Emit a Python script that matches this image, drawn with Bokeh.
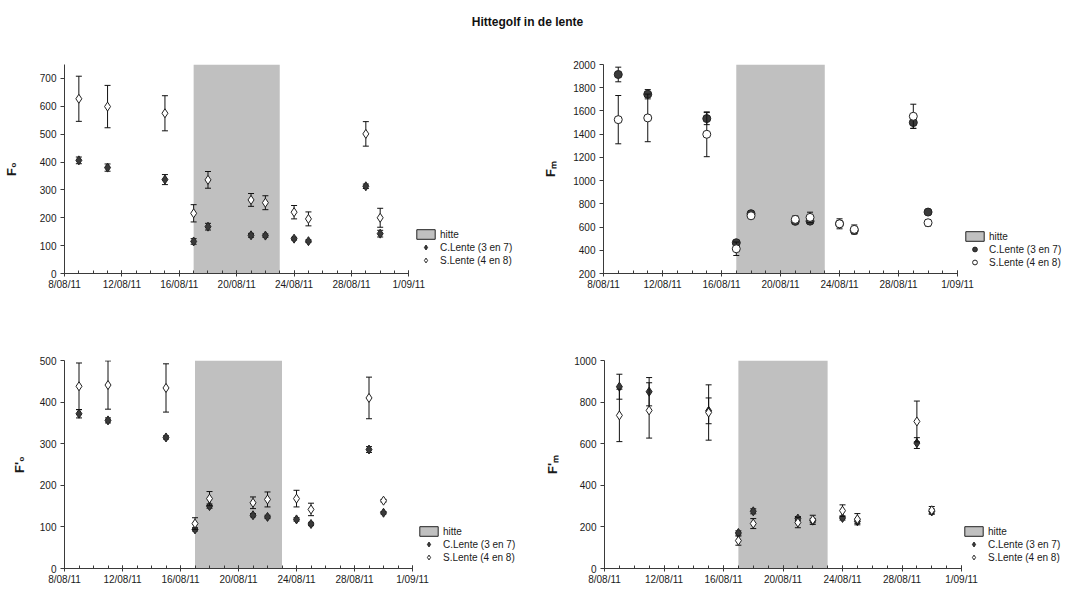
import math
import datetime as dt
import pandas as pd
from bokeh.plotting import figure
from bokeh.models import (Range1d, FixedTicker, CustomJSTickFormatter, Legend,
                          LegendItem, ColumnDataSource)
from bokeh.core.properties import value
from bokeh.layouts import column, row
from bokeh.embed import file_html
from bokeh.resources import INLINE

# ---------------- data ----------------
chart_title = "Hittegolf in de lente"
dates = ["2011-08-09", "2011-08-11", "2011-08-15", "2011-08-17", "2011-08-18",
         "2011-08-21", "2011-08-22", "2011-08-24", "2011-08-25", "2011-08-29",
         "2011-08-30"]
heat_start = "2011-08-17"
heat_end = "2011-08-23"
axis_start = "2011-08-08"
axis_end = "2011-09-01"
major_tick_dates = ["2011-08-08", "2011-08-12", "2011-08-16", "2011-08-20",
                    "2011-08-24", "2011-08-28", "2011-09-01"]
heat_label = "hitte"
c_label = "C.Lente (3 en 7)"
s_label = "S.Lente (4 en 8)"

# F0
f0_c = [406, 380, 337, 115, 168, 137, 136, 125, 116, 313, 143]
f0_c_err = [12, 13, 18, 10, 12, 7, 6, 5, 5, 8, 12]
f0_s = [627, 599, 575, 216, 336, 264, 254, 220, 196, 501, 200]
f0_s_err = [81, 76, 63, 31, 30, 23, 25, 24, 25, 44, 34]
f0_ticks = [0, 100, 200, 300, 400, 500, 600, 700]

# FM
fm_c = [1914, 1744, 1534, 465, 715, 649, 651, 628, 571, 1500, 729]
fm_c_err = [63, 40, 52, 20, 20, 15, 20, 20, 30, 50, 10]
fm_s = [1525, 1540, 1399, 413, 697, 666, 683, 628, 580, 1554, 637]
fm_s_err = [208, 205, 193, 58, 20, 30, 45, 43, 38, 104, 28]
fm_ticks = [200, 400, 600, 800, 1000, 1200, 1400, 1600, 1800, 2000]

# F'0
f0p_c = [372, 356, 315, 94, 150, 128, 124, 118, 107, 286, 134]
f0p_c_err = [10, 6, 4, 4, 5, 4, 4, 4, 4, 7, 3]
f0p_s = [438, 441, 434, 108, 168, 158, 166, 168, 142, 410, 163]
f0p_s_err = [56, 58, 58, 14, 17, 14, 18, 20, 15, 50, 3]
f0p_ticks = [0, 100, 200, 300, 400, 500]

# F'M
fmp_c = [874, 850, 758, 171, 275, 240, 230, 243, 227, 603, 274]
fmp_c_err = [60, 68, 62, 10, 12, 10, 10, 10, 10, 26, 12]
fmp_s = [736, 760, 750, 134, 216, 221, 234, 278, 237, 707, 280]
fmp_s_err = [126, 133, 133, 22, 24, 25, 22, 28, 27, 98, 18]
fmp_ticks = [0, 200, 400, 600, 800, 1000]

# ---------------- styling ----------------
FONT = "Liberation Sans"
SHADE = "#C0C0C0"
DARK = "#3a3a3a"
TXT = "#1a1a1a"


def ms(s):
    return pd.Timestamp(s).value / 1e6


def make_panel(c_vals, c_err, s_vals, s_err, ylabel, y0, y1, yticks, marker,
               width, height, bl, bt, bb, axis_px, label_standoff, leg_dx, leg_dy):
    x_dates = pd.to_datetime(dates)
    t0 = pd.Timestamp(axis_start).to_pydatetime()
    t1 = pd.Timestamp(axis_end).to_pydatetime()
    span_days = (t1 - t0).days
    frame_w = width - bl
    # the frame also holds the legend: extend the range past the axis end
    x_end = t0 + dt.timedelta(days=span_days * frame_w / axis_px)
    p = figure(width=width, height=height, x_axis_type="datetime",
               x_range=Range1d(t0, x_end), y_range=Range1d(y0, y1),
               output_backend="svg", toolbar_location=None,
               min_border_left=bl, min_border_right=0,
               min_border_top=bt, min_border_bottom=bb)
    p.grid.visible = False
    p.outline_line_color = None

    # heat period shading
    p.quad(left=[pd.Timestamp(heat_start)], right=[pd.Timestamp(heat_end)],
           bottom=[y0], top=[y1], fill_color=SHADE, line_color=None)
    heat_dummy = p.quad(left=[math.nan], right=[math.nan], bottom=[math.nan],
                        top=[math.nan], fill_color=SHADE, line_color="#222222",
                        line_width=1)

    renderers = {}
    for key, vals, errs, fill in (("c", c_vals, c_err, DARK), ("s", s_vals, s_err, "white")):
        src = ColumnDataSource(dict(
            x=x_dates, y=vals,
            lo=[v - e for v, e in zip(vals, errs)],
            hi=[v + e for v, e in zip(vals, errs)]))
        p.segment(x0="x", y0="lo", x1="x", y1="hi", source=src,
                  line_color="#111111", line_width=1)
        p.scatter(x="x", y="lo", source=src, marker="dash", size=6,
                  line_color="#111111", line_width=1)
        p.scatter(x="x", y="hi", source=src, marker="dash", size=6,
                  line_color="#111111", line_width=1)
        r = p.scatter(x="x", y="y", source=src, marker=marker,
                      size=9 if marker == "diamond" else 8,
                      fill_color=fill, line_color="#222222", line_width=1)
        renderers[key] = r

    # axes
    xa = p.xaxis[0]
    xa.bounds = (t0, t1)
    xa.ticker = FixedTicker(ticks=[ms(d) for d in major_tick_dates],
                            minor_ticks=[ms(d) for d in pd.date_range(axis_start, axis_end, freq="D")])
    xa.formatter = CustomJSTickFormatter(code="""
        const d = new Date(tick);
        const m = d.getUTCMonth() + 1;
        return d.getUTCDate() + "/" + (m < 10 ? "0" + m : "" + m) + "/" + String(d.getUTCFullYear()).slice(2);
    """)
    xa.major_tick_in = 3
    xa.major_tick_out = 3
    xa.minor_tick_in = 3
    xa.minor_tick_out = 0
    xa.major_label_standoff = 2

    ya = p.yaxis[0]
    ya.ticker = FixedTicker(ticks=yticks, minor_ticks=[])
    ya.major_tick_in = 0
    ya.major_tick_out = 4
    ya.minor_tick_in = 0
    ya.minor_tick_out = 0
    ya.major_label_standoff = 4
    ya.axis_label = ylabel
    ya.axis_label_text_font = FONT
    ya.axis_label_text_font_size = "13px"
    ya.axis_label_text_font_style = "bold"
    ya.axis_label_text_color = TXT
    ya.axis_label_standoff = label_standoff

    for ax in (xa, ya):
        ax.axis_line_color = DARK
        ax.major_tick_line_color = DARK
        ax.minor_tick_line_color = DARK
        ax.major_label_text_font = FONT
        ax.major_label_text_font_size = "10px"
        ax.major_label_text_color = TXT

    leg = Legend(items=[LegendItem(label=heat_label, renderers=[heat_dummy]),
                        LegendItem(label=c_label, renderers=[renderers["c"]]),
                        LegendItem(label=s_label, renderers=[renderers["s"]])],
                 location=(axis_px + leg_dx, leg_dy), glyph_height=12, label_height=12,
                 glyph_width=23, spacing=1, padding=0, margin=0,
                 border_line_alpha=0, background_fill_alpha=0,
                 label_text_font=FONT, label_text_font_size="10px",
                 label_text_color=TXT, label_standoff=3)
    p.add_layout(leg, "center")
    return p


p1 = make_panel(f0_c, f0_c_err, f0_s, f0_s_err, "F₀", 0, 750, f0_ticks, "diamond",
                540, 266, 59, 30, 27, 348, 18, 2, 7)
p2 = make_panel(fm_c, fm_c_err, fm_s, fm_s_err, "Fₘ", 200, 2000, fm_ticks, "circle",
                544, 266, 59, 30, 27, 357, 12, 3, 5)
p3 = make_panel(f0p_c, f0p_c_err, f0p_s, f0p_s_err, "F'₀", 0, 500, f0p_ticks, "diamond",
                540, 288, 64, 60, 20, 348, 10, 5, 5)
p4 = make_panel(fmp_c, fmp_c_err, fmp_s, fmp_s_err, "F'ₘ", 0, 1000, fmp_ticks, "diamond",
                544, 288, 64, 60, 20, 357, 11, 1, 5)

# title strip
pt = figure(width=1084, height=34, x_range=Range1d(0, 1084), y_range=Range1d(0, 34),
            output_backend="svg", toolbar_location=None, min_border=0)
pt.axis.visible = False
pt.grid.visible = False
pt.outline_line_color = None
pt.text(x=[527], y=[13], text=[chart_title], text_align="center",
        text_baseline="middle", text_font=value(FONT), text_font_size="12px",
        text_font_style="bold", text_color="#111111")

layout = column(pt, row(p1, p2), row(p3, p4))

with open("out.html", "w") as f:
    f.write(file_html(layout, INLINE, title=chart_title))
